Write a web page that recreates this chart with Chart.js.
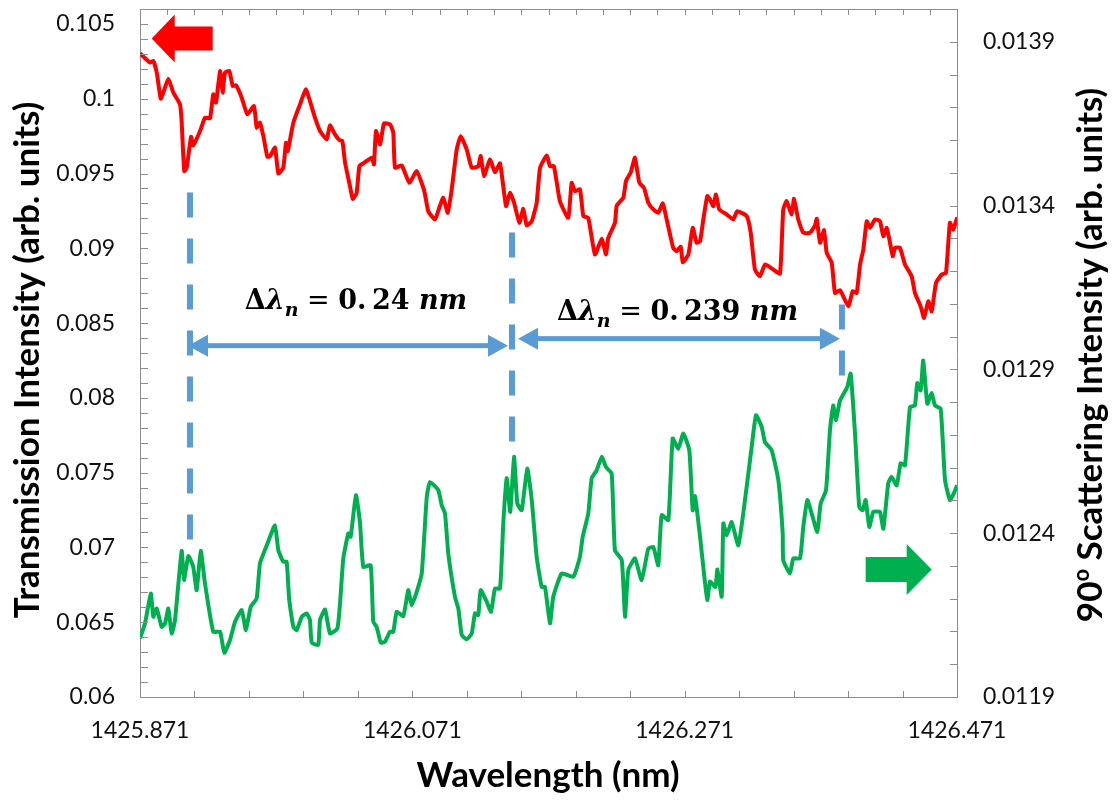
<!DOCTYPE html>
<html>
<head>
<meta charset="utf-8">
<script src="https://cdn.jsdelivr.net/npm/chart.js@4.4.1/dist/chart.umd.min.js"></script>
<style>
  html, body { margin: 0; padding: 0; background: #fff; }
  #chart { display: block; }
</style>
</head>
<body>
<canvas id="chart" width="1114" height="800"></canvas>
<script>
// transmission (left axis, red)
const redWavelength = [
  1425.871, 1425.8783, 1425.8808, 1425.8833, 1425.8862, 1425.8881, 1425.8918, 1425.8955, 1425.9004, 1425.9016,
  1425.9035, 1425.9053, 1425.9085, 1425.9101, 1425.9151, 1425.9187, 1425.9224, 1425.9248, 1425.9268, 1425.9298,
  1425.9317, 1425.9334, 1425.9366, 1425.9391, 1425.9415, 1425.9457, 1425.9498, 1425.9547, 1425.9567, 1425.9591,
  1425.9616, 1425.9645, 1425.9665, 1425.9701, 1425.9726, 1425.9762, 1425.9782, 1425.9795, 1425.9836, 1425.9885,
  1425.9927, 1425.9958, 1425.9995, 1426.0032, 1426.0081, 1426.0105, 1426.0142, 1426.0174, 1426.0196, 1426.0216,
  1426.0252, 1426.0272, 1426.0301, 1426.0321, 1426.0350, 1426.0412, 1426.0428, 1426.0443, 1426.0473, 1426.0502,
  1426.0546, 1426.0570, 1426.0583, 1426.0632, 1426.0688, 1426.0742, 1426.0798, 1426.0827, 1426.0876, 1426.0908,
  1426.0937, 1426.0970, 1426.0999, 1426.1036, 1426.1065, 1426.1109, 1426.1146, 1426.1194, 1426.1212, 1426.1236,
  1426.1280, 1426.1317, 1426.1354, 1426.1398, 1426.1427, 1426.1457, 1426.1496, 1426.1525, 1426.1550, 1426.1587,
  1426.1623, 1426.1648, 1426.1697, 1426.1721, 1426.1750, 1426.1794, 1426.1855, 1426.1880, 1426.1905, 1426.1941,
  1426.1966, 1426.2002, 1426.2051, 1426.2101, 1426.2132, 1426.2149, 1426.2198, 1426.2211, 1426.2259, 1426.2279,
  1426.2314, 1426.2345, 1426.2377, 1426.2411, 1426.2443, 1426.2480, 1426.2516, 1426.2549, 1426.2578, 1426.2626,
  1426.2651, 1426.2681, 1426.2696, 1426.2737, 1426.2769, 1426.2798, 1426.2823, 1426.2847, 1426.2876, 1426.2896,
  1426.2920, 1426.2940, 1426.2964, 1426.3019, 1426.3067, 1426.3096, 1426.3166, 1426.3195, 1426.3226, 1426.3263,
  1426.3300, 1426.3361, 1426.3410, 1426.3434, 1426.3459, 1426.3496, 1426.3513, 1426.3544, 1426.3581, 1426.3630,
  1426.3667, 1426.3680, 1426.3704, 1426.3733, 1426.3753, 1426.3790, 1426.3814, 1426.3851, 1426.3912, 1426.3944,
  1426.3973, 1426.3998, 1426.4022, 1426.4047, 1426.4071, 1426.4108, 1426.4144, 1426.4169, 1426.4194, 1426.4218,
  1426.4238, 1426.4255, 1426.4291, 1426.4328, 1426.4377, 1426.4401, 1426.4443, 1426.4468, 1426.4499, 1426.4524,
  1426.4556, 1426.4598, 1426.4629, 1426.4658, 1426.4683, 1426.4708, 1426.471
];
const redTransmission = [
  0.10304, 0.10242, 0.10252, 0.10175, 0.10001, 0.10041, 0.10134, 0.10041, 0.09962, 0.09842,
  0.09516, 0.09539, 0.09746, 0.09688, 0.09784, 0.09873, 0.09869, 0.10029, 0.09974, 0.10185,
  0.10041, 0.10175, 0.10185, 0.10085, 0.10090, 0.10007, 0.09896, 0.09951, 0.09807, 0.09840,
  0.09750, 0.09612, 0.09616, 0.09673, 0.09501, 0.09539, 0.09706, 0.09650, 0.09840, 0.09962,
  0.10063, 0.09985, 0.09873, 0.09784, 0.09728, 0.09822, 0.09762, 0.09724, 0.09717, 0.09572,
  0.09416, 0.09331, 0.09371, 0.09549, 0.09568, 0.09606, 0.09561, 0.09784, 0.09695, 0.09835,
  0.09829, 0.09773, 0.09539, 0.09554, 0.09438, 0.09516, 0.09382, 0.09248, 0.09193, 0.09271,
  0.09338, 0.09238, 0.09394, 0.09661, 0.09750, 0.09661, 0.09539, 0.09549, 0.09617, 0.09483,
  0.09594, 0.09509, 0.09568, 0.09282, 0.09371, 0.09305, 0.09171, 0.09264, 0.09153, 0.09181,
  0.09305, 0.09539, 0.09621, 0.09549, 0.09549, 0.09315, 0.09204, 0.09438, 0.09382, 0.09394,
  0.09215, 0.09204, 0.08959, 0.09064, 0.08959, 0.09070, 0.09171, 0.09286, 0.09338, 0.09449,
  0.09509, 0.09606, 0.09438, 0.09405, 0.09305, 0.09260, 0.09238, 0.09300, 0.09193, 0.09003,
  0.08981, 0.09010, 0.08907, 0.08959, 0.09137, 0.09037, 0.09048, 0.09193, 0.09349, 0.09327,
  0.09282, 0.09360, 0.09260, 0.09226, 0.09193, 0.09248, 0.09215, 0.09104, 0.08858, 0.08813,
  0.08892, 0.08858, 0.08831, 0.09260, 0.09315, 0.09226, 0.09331, 0.09193, 0.09104, 0.09104,
  0.09153, 0.09197, 0.09037, 0.09121, 0.08970, 0.08903, 0.08702, 0.08720, 0.08612, 0.08713,
  0.08702, 0.08892, 0.08992, 0.09181, 0.09137, 0.09193, 0.09181, 0.09081, 0.09137, 0.09037,
  0.08947, 0.09003, 0.09003, 0.08892, 0.08813, 0.08702, 0.08612, 0.08535, 0.08646, 0.08579,
  0.08769, 0.08825, 0.08836, 0.09171, 0.09126, 0.09197, 0.09179
];

// 90 degree scattering (right axis, green)
const greenWavelength = [
  1425.871, 1425.8747, 1425.8789, 1425.8808, 1425.8833, 1425.8869, 1425.8894, 1425.8918, 1425.8943, 1425.8967,
  1425.9016, 1425.9033, 1425.9065, 1425.9101, 1425.9126, 1425.9156, 1425.9187, 1425.9248, 1425.9298, 1425.9329,
  1425.9371, 1425.9408, 1425.9457, 1425.9488, 1425.9523, 1425.9567, 1425.9591, 1425.9641, 1425.9701, 1425.9726,
  1425.9762, 1425.9787, 1425.9806, 1425.9836, 1425.9861, 1425.9898, 1425.9934, 1425.9958, 1425.9971, 1426.0019,
  1426.0032, 1426.0069, 1426.0105, 1426.0159, 1426.0179, 1426.0203, 1426.0240, 1426.0257, 1426.0296, 1426.0326,
  1426.0350, 1426.0404, 1426.0423, 1426.0448, 1426.0478, 1426.0509, 1426.0546, 1426.0570, 1426.0595, 1426.0644,
  1426.0680, 1426.0705, 1426.0742, 1426.0779, 1426.0816, 1426.0840, 1426.0901, 1426.0926, 1426.0950, 1426.0974,
  1426.1023, 1426.1048, 1426.1073, 1426.1109, 1426.1146, 1426.1170, 1426.1194, 1426.1212, 1426.1256, 1426.1288,
  1426.1317, 1426.1354, 1426.1378, 1426.1403, 1426.1429, 1426.1457, 1426.1481, 1426.1513, 1426.1554, 1426.1587,
  1426.1623, 1426.1660, 1426.1684, 1426.1721, 1426.1745, 1426.1807, 1426.1892, 1426.1941, 1426.1961, 1426.2002,
  1426.2027, 1426.2064, 1426.2101, 1426.2132, 1426.2174, 1426.2198, 1426.2248, 1426.2272, 1426.2296, 1426.2345,
  1426.2394, 1426.2443, 1426.2480, 1426.2516, 1426.2541, 1426.2590, 1426.2622, 1426.2663, 1426.2700, 1426.2744,
  1426.2769, 1426.2786, 1426.2823, 1426.2852, 1426.2876, 1426.2896, 1426.2936, 1426.2950, 1426.2982, 1426.2994,
  1426.3019, 1426.3055, 1426.3104, 1426.3153, 1426.3202, 1426.3234, 1426.3276, 1426.3300, 1426.3349, 1426.3398,
  1426.3430, 1426.3434, 1426.3483, 1426.3508, 1426.3557, 1426.3581, 1426.3611, 1426.3643, 1426.3684, 1426.3709,
  1426.3748, 1426.3777, 1426.3801, 1426.3821, 1426.3851, 1426.3904, 1426.3929, 1426.3961, 1426.3992, 1426.4017,
  1426.4039, 1426.4066, 1426.4095, 1426.4144, 1426.4169, 1426.4205, 1426.4230, 1426.4267, 1426.4296, 1426.4328,
  1426.4365, 1426.4401, 1426.4418, 1426.4443, 1426.4462, 1426.4492, 1426.4524, 1426.4548, 1426.4590, 1426.4622,
  1426.4658, 1426.4688, 1426.471
];
const greenScattering = [
  0.012079, 0.012125, 0.012216, 0.012145, 0.012170, 0.012114, 0.012125, 0.012170, 0.012094, 0.012135,
  0.012346, 0.012257, 0.012330, 0.012297, 0.012226, 0.012346, 0.012247, 0.012099, 0.012099, 0.012035,
  0.012074, 0.012130, 0.012165, 0.012104, 0.012175, 0.012201, 0.012308, 0.012363, 0.012424, 0.012348,
  0.012313, 0.012313, 0.012196, 0.012114, 0.012104, 0.012145, 0.012155, 0.012135, 0.012066, 0.012059,
  0.012135, 0.012167, 0.012094, 0.012109, 0.012186, 0.012323, 0.012399, 0.012389, 0.012516, 0.012430,
  0.012297, 0.012302, 0.012130, 0.012114, 0.012066, 0.012069, 0.012099, 0.012099, 0.012160, 0.012147,
  0.012226, 0.012180, 0.012221, 0.012277, 0.012511, 0.012556, 0.012531, 0.012485, 0.012460, 0.012338,
  0.012206, 0.012170, 0.012089, 0.012076, 0.012094, 0.012155, 0.012150, 0.012226, 0.012191, 0.012160,
  0.012231, 0.012231, 0.012430, 0.012568, 0.012465, 0.012633, 0.012491, 0.012470, 0.012597, 0.012501,
  0.012328, 0.012236, 0.012236, 0.012125, 0.012206, 0.012277, 0.012267, 0.012328, 0.012389, 0.012460,
  0.012567, 0.012592, 0.012633, 0.012602, 0.012582, 0.012348, 0.012318, 0.012145, 0.012287, 0.012323,
  0.012257, 0.012353, 0.012358, 0.012302, 0.012455, 0.012440, 0.012689, 0.012658, 0.012704, 0.012653,
  0.012470, 0.012513, 0.012389, 0.012277, 0.012196, 0.012252, 0.012236, 0.012289, 0.012206, 0.012430,
  0.012394, 0.012434, 0.012363, 0.012501, 0.012663, 0.012760, 0.012724, 0.012678, 0.012653, 0.012562,
  0.012399, 0.012318, 0.012277, 0.012323, 0.012323, 0.012419, 0.012501, 0.012460, 0.012404, 0.012491,
  0.012531, 0.012714, 0.012790, 0.012745, 0.012805, 0.012846, 0.012887, 0.012704, 0.012480, 0.012470,
  0.012501, 0.012419, 0.012465, 0.012465, 0.012414, 0.012552, 0.012572, 0.012546, 0.012613, 0.012607,
  0.012785, 0.012790, 0.012858, 0.012836, 0.012927, 0.012795, 0.012828, 0.012790, 0.012780, 0.012562,
  0.012501, 0.012523, 0.012546
];

const xTickLabels = ['1425.871', '1426.071', '1426.271', '1426.471'];
const leftTickLabels = ['0.06', '0.065', '0.07', '0.075', '0.08', '0.085', '0.09', '0.095', '0.1', '0.105'];
const rightTickLabels = ['0.0119', '0.0124', '0.0129', '0.0134', '0.0139'];

// resonance markers and the spacing between them
const dipWavelengths = [1425.9077, 1426.1442, 1426.3865];
const spacingLabels = ['0.24', '0.239'];

const axisGray = '#8c8c8c';
const blue = '#5b9bd5';
const red = '#ff0000';
const green = '#00b050';
const titleFont = 'bold 35px Lato';

function dashedMark(ctx, x, y1, y2) {
  ctx.save();
  ctx.strokeStyle = blue;
  ctx.lineWidth = 6;
  ctx.setLineDash([25, 21]);
  ctx.beginPath();
  ctx.moveTo(x, y1);
  ctx.lineTo(x, y2);
  ctx.stroke();
  ctx.restore();
}

function doubleArrow(ctx, x1, x2, y) {
  const head = 20, half = 11;
  ctx.save();
  ctx.fillStyle = blue;
  ctx.fillRect(x1 + head - 1, y - 2.5, x2 - x1 - 2 * head + 2, 5);
  ctx.beginPath();
  ctx.moveTo(x1, y); ctx.lineTo(x1 + head, y - half); ctx.lineTo(x1 + head, y + half);
  ctx.closePath(); ctx.fill();
  ctx.beginPath();
  ctx.moveTo(x2, y); ctx.lineTo(x2 - head, y - half); ctx.lineTo(x2 - head, y + half);
  ctx.closePath(); ctx.fill();
  ctx.restore();
}

// block arrow, dir -1 points left, 1 points right
function blockArrow(ctx, tipX, tipY, dir, len, headLen, headHalf, bodyHalf, color) {
  ctx.save();
  ctx.fillStyle = color;
  ctx.beginPath();
  ctx.moveTo(tipX, tipY);
  ctx.lineTo(tipX - dir * headLen, tipY - headHalf);
  ctx.lineTo(tipX - dir * headLen, tipY - bodyHalf);
  ctx.lineTo(tipX - dir * len, tipY - bodyHalf);
  ctx.lineTo(tipX - dir * len, tipY + bodyHalf);
  ctx.lineTo(tipX - dir * headLen, tipY + bodyHalf);
  ctx.lineTo(tipX - dir * headLen, tipY + headHalf);
  ctx.closePath();
  ctx.fill();
  ctx.restore();
}

// Δλ_n = value nm, drawn piece by piece
function mathLabel(ctx, cx, baseline, value, size) {
  const fam = '"DejaVu Serif"';
  const parts = [
    {t: '\u0394', f: `bold ${size}px ${fam}`, dy: 0},
    {t: '\u03bb', f: `italic bold ${size}px ${fam}`, dy: 0},
    {t: 'n', f: `italic bold ${Math.round(size * 0.72)}px ${fam}`, dy: size * 0.27},
    {t: ' = ', f: `${size}px ${fam}`, dy: 0},
    {t: value.replace('.', '.\u2009'), f: `bold ${size}px ${fam}`, dy: 0},
    {t: ' nm', f: `italic bold ${size}px ${fam}`, dy: 0}
  ];
  ctx.save();
  let total = 0;
  parts.forEach(p => { ctx.font = p.f; p.w = ctx.measureText(p.t).width; total += p.w; });
  let x = cx - total / 2;
  ctx.fillStyle = '#000';
  ctx.textBaseline = 'alphabetic';
  ctx.textAlign = 'left';
  parts.forEach(p => {
    ctx.font = p.f;
    ctx.fillText(p.t, x, baseline + p.dy);
    x += p.w;
  });
  ctx.restore();
}

function inwardTicks(ctx, scale, min, step, count, horizontal, base, len) {
  ctx.beginPath();
  for (let i = 0; i <= count; i++) {
    const p = Math.round(scale.getPixelForValue(min + i * step)) + 0.5;
    if (horizontal) { ctx.moveTo(p, base); ctx.lineTo(p, base + len); }
    else { ctx.moveTo(base, p); ctx.lineTo(base + len, p); }
  }
  ctx.stroke();
}

const decorations = {
  id: 'decorations',
  afterDraw(chart) {
    const {ctx, chartArea: a} = chart;
    const {x, yL, yR} = chart.scales;

    // frame top and inward tick marks
    ctx.save();
    ctx.strokeStyle = axisGray;
    ctx.lineWidth = 1;
    ctx.beginPath();
    ctx.moveTo(a.left, a.top + 0.5);
    ctx.lineTo(a.right, a.top + 0.5);
    ctx.stroke();
    inwardTicks(ctx, yL, 0.06, 0.001, 46, false, a.left, 8);
    inwardTicks(ctx, yR, 0.0119, 0.0001, 21, false, a.right, -7);
    inwardTicks(ctx, x, 1425.871, 0.04, 15, true, a.bottom, -6);
    inwardTicks(ctx, x, 1425.871, 0.02, 30, true, a.top, 6);
    ctx.restore();

    // axis titles
    ctx.save();
    ctx.fillStyle = '#000';
    ctx.textAlign = 'center';
    ctx.textBaseline = 'middle';
    ctx.font = titleFont;
    ctx.fillText('Wavelength (nm)', 548, 776);

    ctx.save();
    ctx.translate(28, 360);
    ctx.rotate(-Math.PI / 2);
    ctx.fillText('Transmission Intensity (arb. units)', 0, 0);
    ctx.restore();

    ctx.save();
    ctx.translate(1091, 355);
    ctx.rotate(-Math.PI / 2);
    const a1 = '90', sup = 'o', a2 = ' Scattering Intensity (arb. units)';
    const supFont = 'bold 22px Lato';
    ctx.font = titleFont;
    const w1 = ctx.measureText(a1).width, w2 = ctx.measureText(a2).width;
    ctx.font = supFont;
    const ws = ctx.measureText(sup).width;
    let sx = -(w1 + ws + w2) / 2;
    ctx.textAlign = 'left';
    ctx.font = titleFont;
    ctx.fillText(a1, sx, 0); sx += w1;
    ctx.font = supFont;
    ctx.fillText(sup, sx, -9); sx += ws;
    ctx.font = titleFont;
    ctx.fillText(a2, sx, 0);
    ctx.restore();
    ctx.restore();

    // free spectral range annotation
    const px = dipWavelengths.map(w => x.getPixelForValue(w));
    dashedMark(ctx, px[0], yL.getPixelForValue(0.09373), yL.getPixelForValue(0.07017));
    dashedMark(ctx, px[1], yL.getPixelForValue(0.09106), yL.getPixelForValue(0.07673));
    dashedMark(ctx, px[2], yL.getPixelForValue(0.08624), yL.getPixelForValue(0.08135));
    doubleArrow(ctx, px[0] - 2, px[1] - 4, yL.getPixelForValue(0.08349));
    doubleArrow(ctx, px[1] + 6, px[2] - 2, yL.getPixelForValue(0.08396));
    mathLabel(ctx, x.getPixelForValue(1426.0296), yL.getPixelForValue(0.08597), spacingLabels[0], 27);
    mathLabel(ctx, x.getPixelForValue(1426.2657), yL.getPixelForValue(0.08523), spacingLabels[1], 27);

    // which axis each trace belongs to
    blockArrow(ctx, x.getPixelForValue(1425.8796), yL.getPixelForValue(0.10402), -1, 61, 23, 24, 12, red);
    blockArrow(ctx, x.getPixelForValue(1426.4524), yR.getPixelForValue(0.012289), 1, 66, 25, 25.5, 12.5, green);
  }
};

const tickFont = {family: 'Lato', size: 23};

new Chart(document.getElementById('chart'), {
  type: 'line',
  data: {
    datasets: [
      {
        data: redWavelength.map((w, i) => ({x: w, y: redTransmission[i]})),
        yAxisID: 'yL',
        borderColor: red,
        borderWidth: 4,
        pointRadius: 0,
        tension: 0.15,
        borderJoinStyle: 'round'
      },
      {
        data: greenWavelength.map((w, i) => ({x: w, y: greenScattering[i]})),
        yAxisID: 'yR',
        borderColor: green,
        borderWidth: 4,
        pointRadius: 0,
        tension: 0.15,
        borderJoinStyle: 'round'
      }
    ]
  },
  options: {
    responsive: false,
    animation: false,
    events: [],
    layout: {padding: {top: 9, left: 0, right: 0, bottom: 0}},
    plugins: {legend: {display: false}, tooltip: {enabled: false}},
    scales: {
      x: {
        type: 'linear',
        position: 'bottom',
        min: 1425.871,
        max: 1426.471,
        afterBuildTicks: s => { s.ticks = xTickLabels.map(t => ({value: parseFloat(t)})); },
        afterFit: s => { s.height = 103; s.paddingLeft = 0; s.paddingRight = 0; },
        grid: {display: false, drawTicks: false},
        border: {display: true, color: axisGray, width: 1},
        ticks: {color: '#111', font: tickFont, padding: 20, maxRotation: 0, autoSkip: false,
                callback: (v, i) => xTickLabels[i]}
      },
      yL: {
        type: 'linear',
        position: 'left',
        min: 0.06,
        max: 0.106,
        afterBuildTicks: s => { s.ticks = leftTickLabels.map(t => ({value: parseFloat(t)})); },
        afterFit: s => { s.width = 140; s.paddingTop = 0; s.paddingBottom = 0; },
        grid: {display: false, drawTicks: false},
        border: {display: true, color: axisGray, width: 1},
        ticks: {color: '#111', font: tickFont, padding: 25, autoSkip: false,
                callback: (v, i) => leftTickLabels[i]}
      },
      yR: {
        type: 'linear',
        position: 'right',
        min: 0.0119,
        max: 0.0140,
        afterBuildTicks: s => { s.ticks = rightTickLabels.map(t => ({value: parseFloat(t)})); },
        afterFit: s => { s.width = 157; s.paddingTop = 0; s.paddingBottom = 0; },
        grid: {display: false, drawTicks: false},
        border: {display: true, color: axisGray, width: 1},
        ticks: {color: '#111', font: tickFont, padding: 26, autoSkip: false,
                callback: (v, i) => rightTickLabels[i]}
      }
    }
  },
  plugins: [decorations]
});
</script>
</body>
</html>
